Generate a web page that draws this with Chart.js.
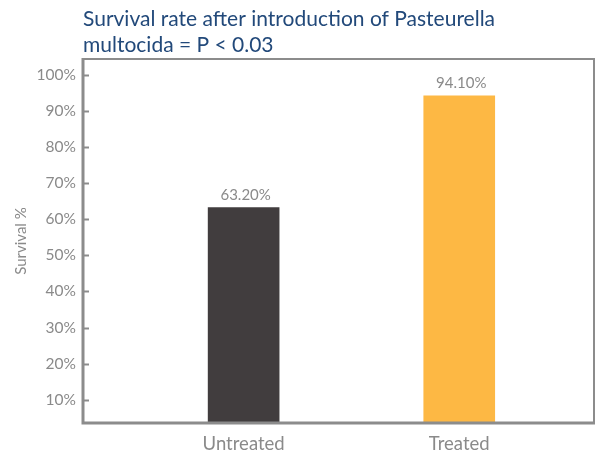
<!DOCTYPE html>
<html>
<head>
<meta charset="utf-8">
<script src="https://cdn.jsdelivr.net/npm/chart.js@4"></script>
<style>
  html, body { margin: 0; padding: 0; background: #fff; }
  #wrap { width: 598px; height: 456px; }
</style>
</head>
<body>
<div id="wrap"><canvas id="survival-chart"></canvas></div>
<script>
// data
const categories = ["Untreated", "Treated"];
const survivalRates = [63.2, 94.1];
const barColors = ['#413d3e', '#fdb844'];
const yTickValues = [10, 20, 30, 40, 50, 60, 70, 80, 90, 100];
const titleLines = ["Survival rate after introduction of Pasteurella", "multocida = P < 0.03"];

const frameColor = '#8c8c8c';
const labelColor = '#8a8a8a';

// box around the plot + inner tick marks on the left axis
const framePlugin = {
    id: 'frame',
    afterDraw(chart) {
        const { ctx, chartArea: a, scales } = chart;
        ctx.save();
        ctx.strokeStyle = frameColor;
        // top and right, thinner
        ctx.lineWidth = 2;
        ctx.beginPath();
        ctx.moveTo(a.left, a.top);
        ctx.lineTo(a.right, a.top);
        ctx.lineTo(a.right, a.bottom);
        ctx.stroke();
        // left and bottom
        ctx.lineWidth = 3;
        ctx.beginPath();
        ctx.moveTo(a.left, a.top - 1);
        ctx.lineTo(a.left, a.bottom);
        ctx.lineTo(a.right + 1, a.bottom);
        ctx.stroke();
        // tick marks
        ctx.lineWidth = 2;
        yTickValues.forEach(v => {
            const y = Math.round(scales.y.getPixelForValue(v)) + 0.5;
            ctx.beginPath();
            ctx.moveTo(a.left, y);
            ctx.lineTo(a.left + 6, y);
            ctx.stroke();
        });
        ctx.restore();
    }
};

// value labels above the bars
const valueLabels = {
    id: 'valueLabels',
    afterDatasetsDraw(chart) {
        const { ctx } = chart;
        const meta = chart.getDatasetMeta(0);
        ctx.save();
        ctx.font = '15px Lato';
        ctx.fillStyle = labelColor;
        ctx.textAlign = 'center';
        ctx.textBaseline = 'bottom';
        meta.data.forEach((bar, i) => {
            ctx.fillText(survivalRates[i].toFixed(2) + '%', bar.x + 2, bar.y - 5);
        });
        ctx.restore();
    }
};

const chartData = {
    datasets: [{
        data: categories.map((c, i) => ({ x: i + 1, y: survivalRates[i] })),
        backgroundColor: barColors,
        borderWidth: 0,
        barThickness: 71
    }]
};

const chartOptions = {
    responsive: true,
    maintainAspectRatio: false,
    animation: false,
    layout: {
        padding: { left: 12, right: 4, top: 4, bottom: 0 }
    },
    scales: {
        x: {
            type: 'linear',
            offset: false,
            min: 0.255,
            max: 2.625,
            grid: { display: false, drawTicks: false },
            border: { display: false },
            afterBuildTicks: scale => {
                scale.ticks = categories.map((c, i) => ({ value: i + 1 }));
            },
            afterFit: scale => { scale.height = 33; },
            ticks: {
                autoSkip: false,
                maxRotation: 0,
                padding: 10,
                color: labelColor,
                font: { family: 'Lato', size: 18.5 },
                callback: v => categories[v - 1]
            }
        },
        y: {
            min: 3.6,
            max: 104.3,
            grid: { display: false, drawTicks: false },
            border: { display: false },
            afterBuildTicks: scale => {
                scale.ticks = yTickValues.map(v => ({ value: v }));
            },
            afterFit: scale => { scale.width = 71; },
            title: {
                display: true,
                text: 'Survival %',
                color: labelColor,
                font: { family: 'Lato', size: 15 },
                padding: { top: 0, bottom: 0 }
            },
            ticks: {
                padding: 7,
                color: labelColor,
                font: { family: 'Lato', size: 15.5 },
                callback: v => v + '%'
            }
        }
    },
    plugins: {
        legend: { display: false },
        tooltip: { enabled: false },
        title: {
            display: true,
            text: titleLines,
            align: 'start',
            fullSize: false,
            color: '#22497a',
            font: { family: 'Lato', size: 21, weight: 'normal', lineHeight: 1.24 },
            padding: { top: 2, bottom: 1 }
        }
    }
};

new Chart(document.getElementById('survival-chart'), {
    type: 'bar',
    data: chartData,
    options: chartOptions,
    plugins: [framePlugin, valueLabels]
});
</script>
</body>
</html>
